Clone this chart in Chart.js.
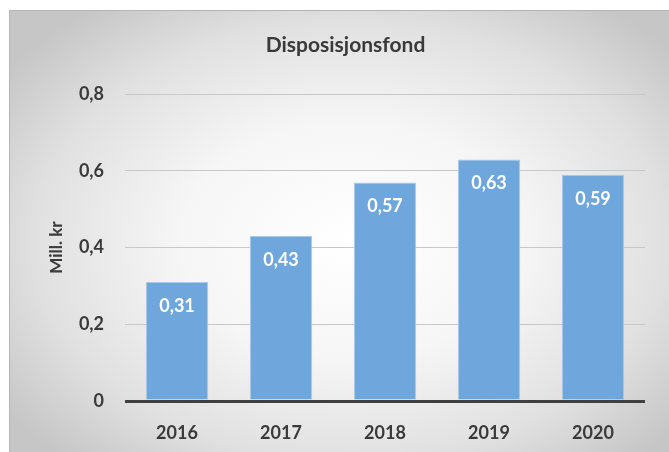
<!DOCTYPE html>
<html>
<head>
<meta charset="utf-8">
<script src="https://cdn.jsdelivr.net/npm/chart.js@4"></script>
<style>
  html, body { margin: 0; padding: 0; background: #fff; }
  #wrap { position: relative; width: 669px; height: 452px; overflow: hidden; }
  #bg {
    position: absolute; left: 9px; top: 10px; width: 680px; height: 460px;
    border-left: 1px solid #b4b4b4; border-top: 1px solid #b4b4b4;
    background: radial-gradient(ellipse 62% 64% at 50% 50%, #ffffff 0%, #f6f6f6 40%, #e0e0e0 75%, #c6c6c6 100%);
  }
  canvas { position: absolute; left: 0; top: 0; }
</style>
</head>
<body>
<div id="wrap">
  <div id="bg"></div>
  <canvas id="chart" width="669" height="452"></canvas>
</div>
<script>
const years = ["2016", "2017", "2018", "2019", "2020"];
const values = [0.31, 0.43, 0.57, 0.63, 0.59];
const chartTitle = "Disposisjonsfond";
const yTitle = "Mill. kr";

const textColor = "#3a3a3a";
const fontName = "Lato, 'Open Sans', sans-serif";

function commaNum(v) {
  return String(v).replace(".", ",");
}

// white value labels inside the top of each bar + rotated y title
const extraText = {
  id: "extraText",
  afterDatasetsDraw(chart) {
    const ctx = chart.ctx;
    const meta = chart.getDatasetMeta(0);
    const area = chart.chartArea;
    ctx.save();
    ctx.fillStyle = "#ffffff";
    ctx.font = "bold 18px " + fontName;
    ctx.textAlign = "center";
    ctx.textBaseline = "middle";
    meta.data.forEach((bar, i) => {
      ctx.fillText(commaNum(values[i]), bar.x, bar.y + 24);
    });

    ctx.translate(57, (area.top + area.bottom) / 2);
    ctx.rotate(-Math.PI / 2);
    ctx.fillStyle = textColor;
    ctx.font = "bold 17px " + fontName;
    ctx.fillText(yTitle, 0, 0);
    ctx.restore();
  }
};

new Chart(document.getElementById("chart"), {
  type: "bar",
  data: {
    labels: years,
    datasets: [{
      data: values,
      backgroundColor: "#6fa6db",
      borderColor: "#a9cbea",
      borderWidth: 1,
      categoryPercentage: 1,
      barPercentage: 0.6
    }]
  },
  options: {
    responsive: false,
    animation: false,
    layout: { padding: { left: 46, right: 24, top: 30, bottom: 11 } },
    plugins: {
      legend: { display: false },
      tooltip: { enabled: false },
      title: {
        display: true,
        text: chartTitle,
        color: textColor,
        font: { family: fontName, size: 21, weight: "bold" },
        padding: { top: 3, bottom: 36 }
      }
    },
    scales: {
      x: {
        grid: { display: false, drawTicks: false },
        border: { display: false },
        ticks: {
          color: textColor,
          padding: 21,
          font: { family: fontName, size: 18, weight: "bold" }
        },
        afterFit(scale) { scale.height = 40; }
      },
      y: {
        min: 0,
        max: 0.8,
        ticks: {
          stepSize: 0.2,
          color: textColor,
          padding: 21,
          font: { family: fontName, size: 18, weight: "bold" },
          callback: v => commaNum(Math.round(v * 10) / 10)
        },
        grid: {
          drawTicks: false,
          color: c => c.tick && c.tick.value === 0 ? "#404040" : "#c8c8c8",
          lineWidth: c => c.tick && c.tick.value === 0 ? 3 : 1
        },
        border: { display: false },
        afterFit(scale) { scale.width = 79; }
      }
    }
  },
  plugins: [extraText]
});
</script>
</body>
</html>
